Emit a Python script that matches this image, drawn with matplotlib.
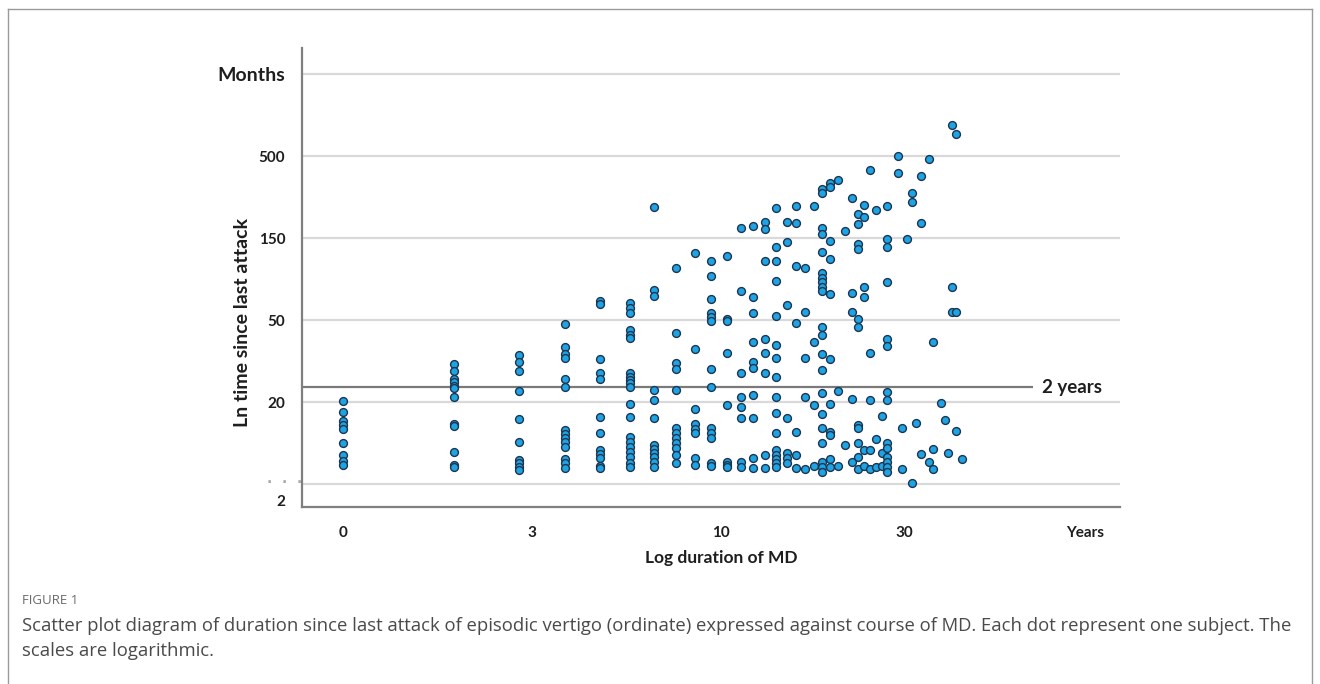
import numpy as np
import matplotlib
matplotlib.use("Agg")
import matplotlib.pyplot as plt
from matplotlib.lines import Line2D

# ---------------- data ----------------
# disease duration (years) of each column of subjects
col_years = [1, 2, 3, 4, 5, 6, 7, 8, 9, 10, 11, 12, 13, 14, 15, 16, 17, 18, 19, 20,
             21, 22, 23, 24, 25, 26, 27, 28, 29, 30, 32, 33, 34, 35, 36, 37, 39, 40,
             42, 43, 44, 45, 46, 48]

# ln(months since last attack) of the subjects in each column
col_ln_months = [
    [3.01, 2.88, 2.77, 2.72, 2.67, 2.50, 2.35, 2.28, 2.23],
    [3.46, 3.38, 3.28, 3.24, 3.20, 3.17, 3.06, 2.73, 2.71, 2.39, 2.23, 2.21],
    [3.57, 3.49, 3.38, 3.13, 2.79, 2.51, 2.29, 2.26, 2.21, 2.17],
    [3.95, 3.67, 3.59, 3.54, 3.28, 3.18, 2.66, 2.61, 2.56, 2.51, 2.45, 2.30, 2.26, 2.20],
    [4.23, 4.20, 3.52, 3.35, 3.28, 2.82, 2.62, 2.41, 2.37, 2.32, 2.22, 2.20],
    [4.21, 4.15, 4.09, 3.88, 3.82, 3.78, 3.35, 3.30, 3.27, 3.23, 3.18, 2.98, 2.82, 2.57,
     2.51, 2.45, 2.39, 2.33, 2.26, 2.21],
    [5.38, 4.37, 4.30, 3.15, 3.02, 2.80, 2.48, 2.43, 2.38, 2.33, 2.27, 2.21],
    [4.63, 3.84, 3.48, 3.40, 3.15, 2.68, 2.62, 2.56, 2.50, 2.44, 2.35, 2.26],
    [4.82, 3.65, 2.91, 2.73, 2.67, 2.62, 2.32, 2.23],
    [4.72, 4.54, 4.26, 4.09, 4.04, 3.99, 3.40, 3.18, 2.68, 2.62, 2.56, 2.26, 2.22],
    [4.78, 4.01, 3.99, 3.60, 2.96, 2.27, 2.23, 2.21],
    [5.13, 4.35, 3.35, 3.06, 2.94, 2.80, 2.27, 2.21],
    [5.15, 4.28, 4.09, 3.73, 3.49, 3.41, 3.09, 2.80, 2.32, 2.20],
    [5.20, 5.11, 4.72, 3.77, 3.60, 3.35, 2.35, 2.20],
    [5.37, 4.89, 4.72, 4.48, 4.05, 3.70, 3.54, 3.30, 3.06, 2.87, 2.62, 2.41, 2.35, 2.30,
     2.26, 2.21],
    [5.20, 4.95, 4.18, 2.80, 2.38, 2.32, 2.26],
    [5.39, 5.18, 4.66, 3.96, 2.63, 2.35, 2.20],
    [4.63, 4.10, 3.54, 3.06, 2.18],
    [5.39, 3.73, 2.96, 2.22],
    [5.60, 5.55, 5.12, 5.05, 4.83, 4.57, 4.52, 4.46, 4.40, 4.35, 3.91, 3.82, 3.59, 3.39,
     3.11, 2.85, 2.68, 2.50, 2.27, 2.21, 2.15],
    [5.67, 5.62, 4.96, 4.74, 4.32, 3.52, 2.98, 2.63, 2.60, 2.30, 2.21],
    [5.71, 3.13, 2.22],
    [5.09, 2.48],
    [5.49, 4.33, 4.10, 3.04, 2.27],
    [5.30, 5.17, 4.93, 4.87, 4.01, 3.91, 2.72, 2.68, 2.50, 2.33, 2.18],
    [5.41, 5.26, 4.41, 4.28, 2.41, 2.22],
    [5.83, 3.60, 3.02, 2.41, 2.18],
    [5.34, 2.55, 2.21],
    [2.83, 2.38, 2.22],
    [5.39, 4.99, 4.89, 4.46, 3.77, 3.68, 3.12, 3.02, 2.50, 2.44, 2.33, 2.27, 2.21, 2.15],
    [6.00, 5.79],
    [2.68, 2.18],
    [4.99],
    [5.55, 5.44, 2.01],
    [2.74],
    [5.76, 5.18, 2.37],
    [5.96, 2.27],
    [3.73, 2.43, 2.18],
    [2.99],
    [2.78],
    [2.38],
    [6.38, 4.40, 4.10],
    [6.27, 4.10, 2.65],
    [2.30],
]

grid_values = [2, 3, 4, 5, 6, 7]
y_tick_labels = ["2", "20", "50", "150", "500", "Months"]
x_tick_labels = ["0", "3", "10", "30", "Years"]
two_years_months = 24

caption_head = "FIGURE 1"
caption_lines = [
    "Scatter plot diagram of duration since last attack of episodic vertigo (ordinate) "
    "expressed against course of MD. Each dot represent one subject. The",
    "scales are logarithmic.",
]

# ---------------- expand ----------------
xs, ys = [], []
for yr, vals in zip(col_years, col_ln_months):
    for v in vals:
        xs.append(np.log(yr))
        ys.append(v)
xs = np.array(xs)
ys = np.array(ys)

W, H = 1320, 684
fig = plt.figure(figsize=(W / 100, H / 100), dpi=100)
fig.patch.set_facecolor("white")

left, right, top, bottom = 302, 1120, 48, 507
ax = fig.add_axes([left / W, 1 - bottom / H, (right - left) / W, (bottom - top) / H])

FONT = "Lato"
TXT = "#1e1e1e"
ax.set_xlim(-0.256, 4.856)
ax.set_ylim(1.72, 7.32)

# grid lines
for v in grid_values:
    ax.axhline(v, color="#d9d9d9", lw=1.6, zorder=1)

# 2-year reference line
ly = np.log(two_years_months)
ax.plot([-0.256, 4.31], [ly, ly], color="#7a7a7a", lw=1.6, zorder=2,
        solid_capstyle="butt")
ax.text(4.37, ly, "2 years", fontsize=13.5, fontweight="bold", family=FONT,
        va="center", ha="left", color=TXT)

ax.scatter(xs, ys, s=32, facecolor="#1ea3e3", edgecolor="#1c3550", linewidth=1.0,
           zorder=3)

for s in ["top", "right"]:
    ax.spines[s].set_visible(False)
for s in ["left", "bottom"]:
    ax.spines[s].set_color("#7f7f7f")
    ax.spines[s].set_linewidth(1.6)

# bottom label "2" sits just below its grid line
ax.set_yticks([1.80] + grid_values[1:])
ax.set_yticklabels(y_tick_labels)
ax.set_xticks([0, 1.18, 2.36, 3.51, 4.64])
ax.set_xticklabels(x_tick_labels)
ax.tick_params(axis="both", length=0)
ax.tick_params(axis="y", pad=12)
ax.tick_params(axis="x", pad=14)
for lab in ax.get_yticklabels() + ax.get_xticklabels():
    lab.set_fontfamily(FONT)
    lab.set_fontweight("bold")
    lab.set_fontsize(11)
    lab.set_color(TXT)
ax.get_yticklabels()[-1].set_fontsize(14)

ax.set_ylabel("Ln time since last attack", fontsize=14, fontweight="bold",
              family=FONT, color=TXT)
ax.yaxis.set_label_coords(-0.062, 0.403)
ax.set_xlabel("Log duration of MD", fontsize=12.5, fontweight="bold",
              family=FONT, color=TXT)
ax.xaxis.set_label_coords(0.513, -0.093)

# small dots at the bottom grid line, left of the axis
fig.text(285 / W, 1 - 483 / H, "·  ·  ·", fontsize=10, color="#a8a8a8",
         ha="center", va="center", fontweight="bold")

# caption
fig.text(22 / W, 1 - 600 / H, caption_head, fontsize=9.5, color="#6a6a6a",
         family="Open Sans", va="center")
fig.text(22 / W, 1 - 626 / H, caption_lines[0], fontsize=13.3, color="#4a4a4a",
         family="Open Sans", va="center")
fig.text(22 / W, 1 - 651 / H, caption_lines[1], fontsize=13.3, color="#4a4a4a",
         family="Open Sans", va="center")

# frame around the figure
bc = "#9a9a9a"
fig.add_artist(Line2D([8 / W, 1312 / W], [1 - 9 / H, 1 - 9 / H], color=bc, lw=1,
                      transform=fig.transFigure))
fig.add_artist(Line2D([8 / W, 8 / W], [1 - 9 / H, 0], color=bc, lw=1,
                      transform=fig.transFigure))
fig.add_artist(Line2D([1312 / W, 1312 / W], [1 - 9 / H, 0], color=bc, lw=1,
                      transform=fig.transFigure))

fig.savefig("out.png", dpi=100, facecolor="white")
